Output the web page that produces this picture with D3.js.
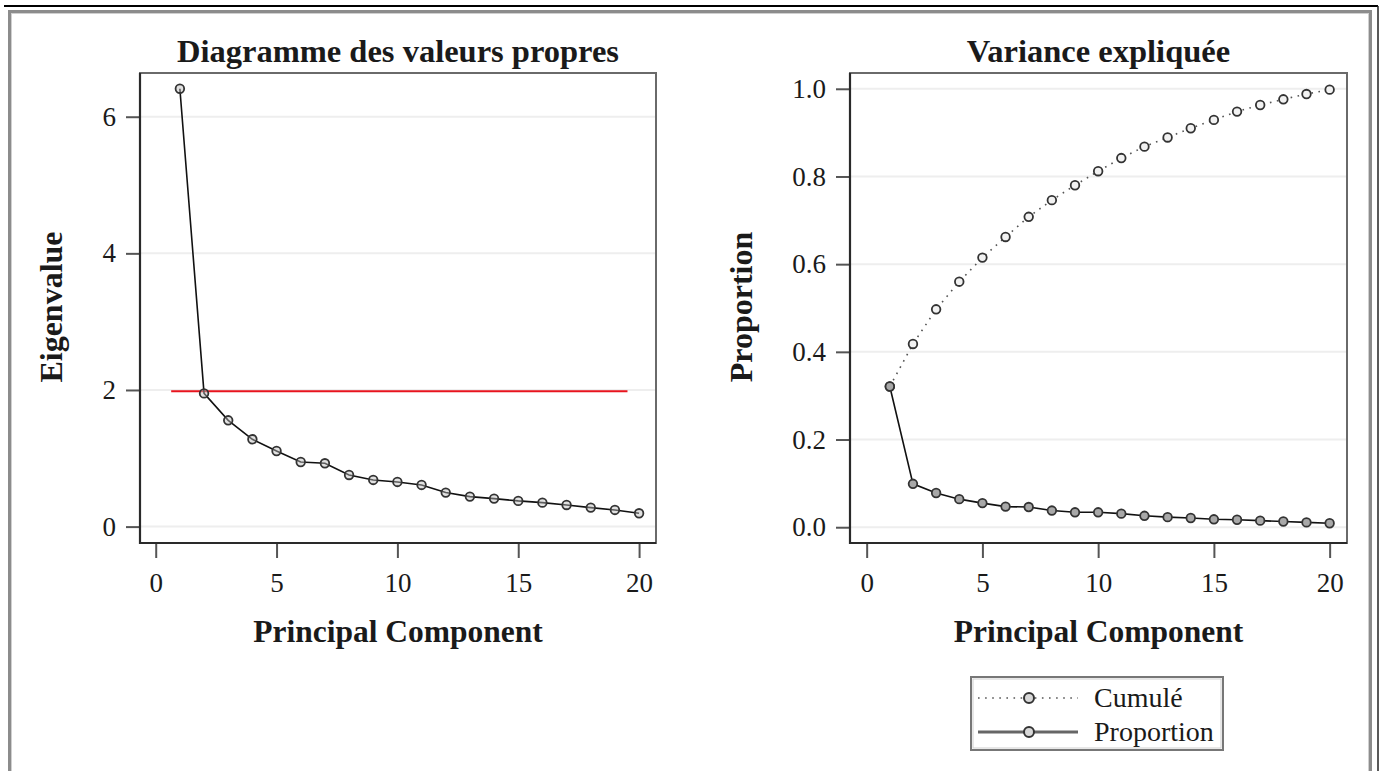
<!DOCTYPE html>
<html>
<head>
<meta charset="utf-8">
<script src="https://cdn.jsdelivr.net/npm/d3@7"></script>
<style>
  html, body { margin: 0; padding: 0; background: #fff; }
  svg { display: block; font-family: "Liberation Serif", "Times New Roman", serif; }
</style>
</head>
<body>
<svg id="chart" width="1385" height="771"></svg>
<script>
// ---- Data ----
const components = [1,2,3,4,5,6,7,8,9,10,11,12,13,14,15,16,17,18,19,20];
const eigenvalues = [6.41,1.95,1.556,1.278,1.107,0.946,0.927,0.756,0.683,0.654,0.61,0.498,0.439,0.41,0.376,0.351,0.317,0.278,0.244,0.195];
const proportion = [0.321,0.099,0.078,0.064,0.055,0.047,0.046,0.038,0.034,0.034,0.031,0.026,0.023,0.021,0.018,0.017,0.015,0.013,0.011,0.009];
const cumulative = [0.321,0.418,0.497,0.56,0.615,0.662,0.708,0.746,0.78,0.812,0.842,0.868,0.889,0.91,0.929,0.948,0.963,0.976,0.988,0.998];
const refLineValue = 1.98;
const refLineSpan = [0.64, 19.52];
const xTicks = [0,5,10,15,20];
const eigenTicks = [0,2,4,6];
const propTicks = [0,0.2,0.4,0.6,0.8,1.0];
const titles = ["Diagramme des valeurs propres", "Variance expliquée"];
const xLabel = "Principal Component";
const yLabels = ["Eigenvalue", "Proportion"];
const legendLabels = ["Cumulé", "Proportion"];

const svg = d3.select("#chart");

// ---- Outer page decorations ----
svg.append("line").attr("x1",4).attr("x2",1378).attr("y1",6).attr("y2",6).attr("stroke","#000").attr("stroke-width",2);
svg.append("line").attr("x1",1378).attr("x2",1378).attr("y1",6).attr("y2",771).attr("stroke","#222").attr("stroke-width",1.5);
svg.append("rect").attr("x",9.5).attr("y",11.5).attr("width",1361).attr("height",800)
  .attr("fill","none").attr("stroke","#8c8c8c").attr("stroke-width",3);
svg.append("rect").attr("x",11.5).attr("y",13.5).attr("width",1357).attr("height",800)
  .attr("fill","none").attr("stroke","#d0d0d0").attr("stroke-width",1);

const panels = [
  { x0:140, x1:656, y0:73, y1:543, xDom:[-0.65,20.7], yDom:[-0.24,6.64], yTicks:eigenTicks, fmt:d3.format("d") },
  { x0:850, x1:1347, y0:73, y1:543, xDom:[-0.72,20.75], yDom:[-0.036,1.036], yTicks:propTicks, fmt:d3.format(".1f") }
];

const textColor = "#1a1a1a";

panels.forEach((p, i) => {
  p.x = d3.scaleLinear().domain(p.xDom).range([p.x0, p.x1]);
  p.y = d3.scaleLinear().domain(p.yDom).range([p.y1, p.y0]);
  const g = svg.append("g");

  // gridlines
  g.selectAll("line.grid").data(p.yTicks).join("line")
    .attr("x1", p.x0).attr("x2", p.x1)
    .attr("y1", d => p.y(d)).attr("y2", d => p.y(d))
    .attr("stroke", "#eeeeee").attr("stroke-width", 2);

  // axes
  const ya = g.append("g").attr("transform", `translate(${p.x0},0)`)
    .call(d3.axisLeft(p.y).tickValues(p.yTicks).tickFormat(p.fmt).tickSize(14).tickPadding(10));
  const xa = g.append("g").attr("transform", `translate(0,${p.y1})`)
    .call(d3.axisBottom(p.x).tickValues(xTicks).tickFormat(d3.format("d")).tickSize(15).tickPadding(15));
  [ya, xa].forEach(a => {
    a.select(".domain").remove();
    a.selectAll(".tick line").attr("stroke", "#555").attr("stroke-width", 2);
    a.selectAll(".tick text").attr("font-size", 27).attr("fill", textColor)
      .attr("font-family", '"Liberation Serif", "Times New Roman", serif');
  });

  // frame
  g.append("rect").attr("x", p.x0).attr("y", p.y0).attr("width", p.x1 - p.x0).attr("height", p.y1 - p.y0)
    .attr("fill", "none").attr("stroke", "#6a6a6a").attr("stroke-width", 2);
  g.append("path").attr("d", `M${p.x0},${p.y0}V${p.y1}H${p.x1}`)
    .attr("fill", "none").attr("stroke", "#2a2a2a").attr("stroke-width", 2.2);

  // titles and labels
  const cx = (p.x0 + p.x1) / 2;
  svg.append("text").attr("x", cx).attr("y", 62).attr("text-anchor", "middle")
    .attr("font-weight", "bold").attr("font-size", 32.5).attr("fill", textColor).text(titles[i]);
  svg.append("text").attr("x", cx).attr("y", 642).attr("text-anchor", "middle")
    .attr("font-weight", "bold").attr("font-size", 31.5).attr("fill", textColor).text(xLabel);
  const yx = i === 0 ? 62 : 752;
  svg.append("text").attr("transform", `translate(${yx},307) rotate(-90)`).attr("text-anchor", "middle")
    .attr("font-weight", "bold").attr("font-size", 32).attr("fill", textColor).text(yLabels[i]);
});

// ---- Left panel: eigenvalues ----
const L = panels[0];
svg.append("line")
  .attr("x1", L.x(refLineSpan[0])).attr("x2", L.x(refLineSpan[1]))
  .attr("y1", L.y(refLineValue)).attr("y2", L.y(refLineValue))
  .attr("stroke", "#e8141e").attr("stroke-width", 2);

const eigData = components.map((c, k) => [c, eigenvalues[k]]);
svg.append("path").datum(eigData)
  .attr("d", d3.line().x(d => L.x(d[0])).y(d => L.y(d[1])))
  .attr("fill", "none").attr("stroke", "#111").attr("stroke-width", 1.6);
svg.append("g").selectAll("circle").data(eigData).join("circle")
  .attr("cx", d => L.x(d[0])).attr("cy", d => L.y(d[1])).attr("r", 4.3)
  .attr("fill", "#bdbdbd").attr("fill-opacity", 0.45).attr("stroke", "#333").attr("stroke-width", 1.8);

// ---- Right panel: explained variance ----
const R = panels[1];
const cumData = components.map((c, k) => [c, cumulative[k]]);
const propData = components.map((c, k) => [c, proportion[k]]);
svg.append("path").datum(cumData)
  .attr("d", d3.line().x(d => R.x(d[0])).y(d => R.y(d[1])))
  .attr("fill", "none").attr("stroke", "#555").attr("stroke-width", 1.6)
  .attr("stroke-dasharray", "1.6,5.5");
svg.append("path").datum(propData)
  .attr("d", d3.line().x(d => R.x(d[0])).y(d => R.y(d[1])))
  .attr("fill", "none").attr("stroke", "#111").attr("stroke-width", 1.6);
svg.append("g").selectAll("circle").data(cumData).join("circle")
  .attr("cx", d => R.x(d[0])).attr("cy", d => R.y(d[1])).attr("r", 4.3)
  .attr("fill", "#f2f2f2").attr("stroke", "#333").attr("stroke-width", 1.8);
svg.append("g").selectAll("circle").data(propData).join("circle")
  .attr("cx", d => R.x(d[0])).attr("cy", d => R.y(d[1])).attr("r", 4.3)
  .attr("fill", "#a8a8a8").attr("stroke", "#333").attr("stroke-width", 1.8);

// ---- Legend ----
const lg = svg.append("g");
lg.append("rect").attr("x", 971).attr("y", 677).attr("width", 252).attr("height", 73)
  .attr("fill", "#fff").attr("stroke", "#777").attr("stroke-width", 2);
lg.append("rect").attr("x", 973).attr("y", 679).attr("width", 248).attr("height", 69)
  .attr("fill", "none").attr("stroke", "#cfcfcf").attr("stroke-width", 1);
const rows = [
  { y: 698, dash: "1.6,5.5", sw: 1.6, color: "#555" },
  { y: 732, dash: null, sw: 3, color: "#666" }
];
rows.forEach((r, k) => {
  const ln = lg.append("line").attr("x1", 978).attr("x2", 1078).attr("y1", r.y).attr("y2", r.y)
    .attr("stroke", r.color).attr("stroke-width", r.sw);
  if (r.dash) ln.attr("stroke-dasharray", r.dash);
  lg.append("circle").attr("cx", 1029).attr("cy", r.y).attr("r", 5)
    .attr("fill", "#d8d8d8").attr("stroke", "#333").attr("stroke-width", 2);
  lg.append("text").attr("x", 1094).attr("y", r.y + 9).attr("font-size", 28).attr("fill", textColor)
    .text(legendLabels[k]);
});
</script>
</body>
</html>
